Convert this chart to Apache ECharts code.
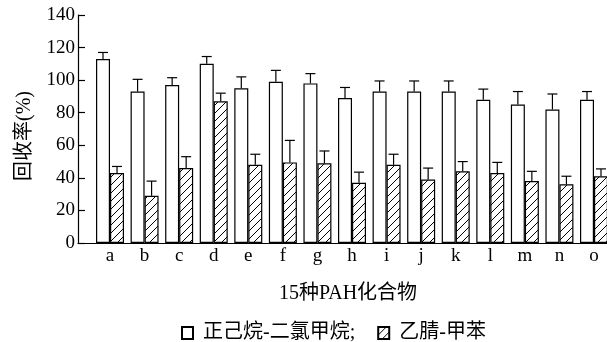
<!DOCTYPE html>
<html>
<head>
<meta charset="utf-8">
<script src="https://cdn.jsdelivr.net/npm/echarts@6/dist/echarts.min.js"></script>
<style>
  html, body { margin: 0; padding: 0; background: #fff; }
  #chart { width: 607px; height: 342px; }
</style>
</head>
<body>
<div id="chart"></div>
<script>
// 数据
const categories = ['a','b','c','d','e','f','g','h','i','j','k','l','m','n','o']
const hexaneDcm = [113, 93, 97, 110, 95, 99, 98, 89, 93, 93, 93, 88, 85, 82, 88]
const hexaneDcmErr = [4, 7.5, 4.5, 4.5, 7, 7, 6, 6.5, 6.5, 6.5, 6.5, 6.5, 8, 9.5, 5]
const acnToluene = [43, 29, 46, 87, 48, 49.5, 49, 37, 48, 39, 44, 43, 38, 36, 41]
const acnTolueneErr = [4, 9, 7, 5, 6.5, 13.5, 7.5, 6.5, 6.5, 7, 6, 6.5, 6, 5, 4.5]
const yTicks = [0, 20, 40, 60, 80, 100, 120, 140]
const seriesNames = ['正己烷-二氯甲烷;', '乙腈-甲苯']

const FONT = '"Liberation Serif", "Noto Sans CJK SC", serif'
const BAR_W = 14

// 斜线填充
const makeHatch = () => {
  const c = document.createElement('canvas')
  c.width = 8
  c.height = 8
  const ctx = c.getContext('2d')
  ctx.fillStyle = '#fff'
  ctx.fillRect(0, 0, 8, 8)
  ctx.strokeStyle = '#000'
  ctx.lineWidth = 1
  ctx.beginPath()
  ctx.moveTo(0, 8); ctx.lineTo(8, 0)
  ctx.moveTo(-1, 1); ctx.lineTo(1, -1)
  ctx.moveTo(7, 9); ctx.lineTo(9, 7)
  ctx.stroke()
  return c
}

const toPairs = arr => arr.map((v, i) => [i, v])
const toErr = (vals, errs) => vals.map((v, i) => [i, v, errs[i]])

// 误差线
const errorBar = (offset) => (params, api) => {
  const base = api.coord([api.value(0), api.value(1)])
  const top = api.coord([api.value(0), api.value(1) + api.value(2)])
  const x = base[0] + offset
  const style = { stroke: '#000', lineWidth: 1.2 }
  return {
    type: 'group',
    children: [
      { type: 'line', shape: { x1: x, y1: base[1], x2: x, y2: top[1] }, style },
      { type: 'line', shape: { x1: x - 5, y1: top[1], x2: x + 5, y2: top[1] }, style }
    ]
  }
}

const chart = echarts.init(document.getElementById('chart'))
const hatch = { image: makeHatch(), repeat: 'repeat' }

chart.setOption({
  animation: false,
  backgroundColor: '#fff',
  textStyle: { fontFamily: FONT, color: '#000' },
  grid: { left: 78, right: 0, top: 15, bottom: 99 },
  legend: {
    left: 176,
    top: 318,
    itemWidth: 11,
    itemHeight: 12,
    itemGap: 22,
    icon: 'rect',
    selectedMode: false,
    textStyle: { fontFamily: FONT, fontSize: 20, color: '#000', padding: [0, 0, 0, 5] },
    data: seriesNames
  },
  xAxis: {
    type: 'value',
    min: -0.926,
    max: 14.376,
    splitLine: { show: false },
    axisTick: { show: false },
    axisLine: { onZero: false, lineStyle: { color: '#000', width: 1.2 } },
    axisLabel: {
      customValues: categories.map((c, i) => i),
      formatter: v => categories[Math.round(v)] || '',
      fontFamily: FONT,
      fontSize: 19,
      color: '#000',
      margin: 4
    },
    name: '15种PAH化合物',
    nameLocation: 'middle',
    nameGap: 41,
    nameTextStyle: { fontFamily: FONT, fontSize: 20, color: '#000', padding: [0, 0, 0, 11] }
  },
  yAxis: {
    type: 'value',
    min: 0,
    max: 140,
    interval: 20,
    splitLine: { show: false },
    axisLine: { show: true, onZero: false, lineStyle: { color: '#000', width: 1.2 } },
    axisTick: { show: true, inside: true, length: 7, lineStyle: { color: '#000', width: 1.2 } },
    axisLabel: {
      fontFamily: FONT,
      fontSize: 19,
      color: '#000',
      margin: 3,
      formatter: v => (yTicks.includes(v) ? String(v) : '')
    },
    name: '回收率(%)',
    nameLocation: 'middle',
    nameRotate: 90,
    nameGap: 43,
    nameTextStyle: { fontFamily: FONT, fontSize: 20, color: '#000', padding: [0, 14, 0, 0] }
  },
  series: [
    {
      name: seriesNames[0],
      type: 'bar',
      barWidth: BAR_W,
      barGap: '0%',
      data: toPairs(hexaneDcm),
      itemStyle: { color: '#fff', borderColor: '#000', borderWidth: 1.2 }
    },
    {
      name: seriesNames[1],
      type: 'bar',
      barWidth: BAR_W,
      barGap: '0%',
      data: toPairs(acnToluene),
      itemStyle: { color: hatch, borderColor: '#000', borderWidth: 1.2 }
    },
    {
      type: 'custom',
      renderItem: errorBar(-BAR_W / 2),
      data: toErr(hexaneDcm, hexaneDcmErr),
      z: 5
    },
    {
      type: 'custom',
      renderItem: errorBar(BAR_W / 2),
      data: toErr(acnToluene, acnTolueneErr),
      z: 5
    }
  ]
})
</script>
</body>
</html>
